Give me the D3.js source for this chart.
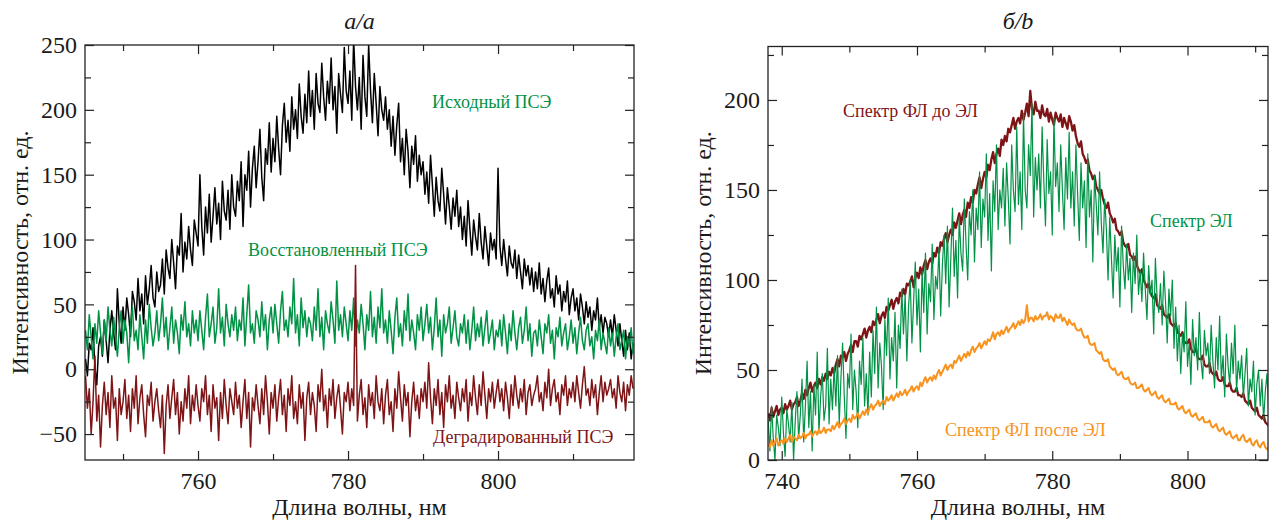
<!DOCTYPE html>
<html>
<head>
<meta charset="utf-8">
<script src="https://cdn.jsdelivr.net/npm/d3@7.9.0/dist/d3.min.js"></script>
<style>
  body { margin: 0; background: #fff; }
  svg { display: block; font-family: "Liberation Serif", "Times New Roman", serif; }
</style>
</head>
<body>
<svg id="chart" width="1269" height="520"></svg>
<script>
// ---- panel a: wavelength grid 745..818 nm, 0.25 nm step (20 values per 5 nm row)
const leftStart = 745;
const leftStep = 0.25;

// Исходный ПСЭ
const leftOriginal = [
  8, -5, 20, 15, 32, 2, -12, 18, 25, 10, 38, 22, 5, 30, 45, 28, 15, 62, 35, 20,
  48, 30, 55, 42, 25, 60, 52, 38, 70, 45, 58, 35, 72, 50, 62, 80, 55, 48, 75, 60,
  65, 85, 58, 92, 78, 70, 100, 82, 62, 95, 88, 120, 75, 98, 85, 110, 92, 80, 115, 105,
  95, 150, 110, 88, 125, 105, 135, 98, 118, 140, 112, 128, 100, 145, 122, 115, 138, 108, 150, 125,
  118, 145, 130, 160, 110, 150, 138, 168, 125, 155, 172, 140, 160, 185, 148, 130, 170, 158, 190, 152,
  178, 160, 195, 170, 150, 188, 205, 175, 192, 168, 210, 185, 200, 178, 220, 195, 182, 212, 190, 230,
  195, 215, 185, 228, 205, 198, 236, 210, 192, 222, 205, 240, 200, 218, 182, 228, 212, 198, 248, 215,
  205, 230, 192, 255, 218, 200, 225, 185, 242, 210, 195, 250, 215, 190, 228, 205, 180, 218, 200, 192,
  210, 185, 200, 172, 195, 165, 188, 205, 160, 178, 150, 185, 168, 140, 172, 158, 180, 145, 165, 150,
  160, 135, 152, 128, 165, 142, 118, 148, 130, 122, 155, 135, 112, 140, 125, 108, 132, 118, 138, 110,
  125, 100, 118, 95, 130, 108, 88, 115, 102, 92, 120, 98, 85, 110, 95, 80, 105, 92, 100, 85,
  155, 95, 80, 100, 85, 72, 95, 82, 78, 92, 70, 88, 75, 62, 85, 72, 80, 65, 78, 60,
  75, 62, 82, 58, 70, 52, 68, 78, 55, 62, 48, 72, 58, 65, 45, 60, 52, 68, 42, 55,
  62, 45, 55, 38, 58, 48, 35, 52, 40, 48, 30, 45, 38, 55, 32, 42, 28, 40, 35, 25,
  38, 25, 42, 30, 18, 35, 22, 10, 30, 15, 28, 8, 20
];

// Восстановленный ПСЭ
const leftRestored = [
  30, 15, 42, 25, 8, 35, 20, 45, 28, 12, 38, 22, 48, 30, 18, 40, 25, 10, 32, 45,
  20, 38, 28, 5, 35, 48, 22, 30, 15, 42, 25, 8, 38, 20, 50, 32, 18, 28, 45, 22,
  35, 55, 25, 40, 15, 32, 48, 20, 38, 28, 12, 42, 30, 52, 25, 35, 18, 45, 28, 38,
  22, 45, 30, 15, 40, 58, 25, 35, 48, 20, 32, 62, 28, 40, 18, 50, 35, 25, 42, 30,
  48, 22, 38, 30, 55, 18, 42, 65, 28, 35, 20, 45, 38, 25, 52, 30, 42, 15, 38, 48,
  28, 50, 35, 20, 45, 60, 30, 38, 25, 48, 35, 70, 28, 42, 18, 55, 32, 45, 25, 40,
  35, 22, 48, 30, 62, 25, 40, 15, 45, 35, 28, 52, 38, 20, 68, 30, 42, 25, 48, 35,
  22, 45, 30, 55, 18, 38, 28, 50, 35, 15, 42, 30, 60, 25, 40, 20, 48, 32, 62, 28,
  38, 20, 45, 30, 12, 40, 55, 25, 35, 18, 45, 30, 58, 22, 38, 28, 15, 42, 30, 48,
  22, 35, 50, 28, 40, 15, 32, 55, 25, 38, 10, 42, 28, 35, 48, 20, 32, 45, 25, 18,
  35, 28, 42, 20, 38, 15, 30, 48, 22, 35, 25, 40, 18, 32, 45, 20, 28, 38, 15, 30,
  25, 38, 18, 42, 28, 12, 35, 22, 45, 28, 15, 32, 40, 20, 30, 48, 22, 35, 10, 28,
  30, 18, 38, 25, 12, 35, 28, 42, 20, 30, 8, 32, 25, 40, 18, 28, 35, 15, 25, 38,
  20, 32, 12, 28, 40, 22, 15, 30, 35, 18, 25, 8, 30, 22, 38, 15, 28, 20, 12, 32,
  18, 28, 10, 25, 35, 15, 22, 30, 8, 25, 18, 32, 12
];

// Деградированный ПСЭ
const leftDegraded = [
  -5, -30, -15, -50, -25, 10, -40, -20, -60, -28, -10, -35, -18, -45, -5, -30, -22, -55, -15, -35,
  -25, -8, -38, -20, -48, -15, -30, -5, -42, -22, -12, -35, -52, -20, -28, -10, -40, -25, -15, -32,
  -45, -20, -65, -28, -12, -38, -22, -8, -35, -18, -50, -25, -40, -15, -30, -5, -42, -20, -32, -12,
  -28, -40, -15, -25, -5, -35, -20, -48, -12, -30, -22, -55, -18, -38, -8, -28, -42, -15, -25, -35,
  -10, -30, -20, -45, -25, -8, -38, -18, -60, -22, -32, -12, -28, -42, -15, -35, -5, -25, -50, -18,
  -30, -12, -40, -22, -8, -35, -20, -48, -15, -28, -5, -38, -25, -42, -12, -30, -18, -55, -22, -10,
  -35, -18, -28, -48, -12, -25, 0, -32, -20, -45, -15, -28, -8, -38, -22, -12, -30, -50, -18, -25,
  -10, -32, -15, -28, 80, -40, -20, -8, -35, -22, -45, -12, -28, -18, -38, -5, -25, -32, -15, -42,
  -20, -8, -35, -25, -48, -15, -30, -2, -22, -40, -12, -28, -18, -52, -25, -10, -32, -20, -38, -15,
  -25, -10, -30, 5, -22, -42, -15, -28, -8, -35, -18, -45, -12, -25, -5, -30, -20, -38, -10, -22,
  -32, -15, -25, -8, -40, -18, -28, -5, -22, -35, -12, -28, -2, -20, -38, -15, -25, -10, -30, -18,
  -8, -25, -15, -32, -10, -22, -38, -12, -28, -5, -20, -30, -15, -25, -8, -35, -18, -12, -28, -20,
  -15, -5, -25, -18, -32, -10, -22, 0, -28, -15, -8, -25, -18, -35, -12, -20, -5, -28, -15, -22,
  -10, -25, -5, -18, -30, -12, 2, -20, -15, -28, -8, -22, -12, -35, -18, -5, -25, -10, -20, -15,
  -8, -22, -15, -30, -5, -18, -25, -10, -32, -12, -20, -5, -15
];

// ---- panel b: wavelength grid 738..812 nm, 0.25 nm step
const rightStart = 738;
const rightStep = 0.25;

// Спектр ФЛ до ЭЛ
const rightPlBefore = [
  26, 22, 29, 24, 27, 30, 25, 28, 29, 26, 31, 28, 30, 33, 28, 31, 32, 35, 30, 33,
  37, 34, 39, 36, 40, 43, 38, 41, 43, 40, 45, 42, 46, 44, 48, 45, 49, 47, 51, 48,
  53, 56, 52, 58, 57, 60, 55, 59, 61, 64, 60, 66, 66, 63, 69, 67, 70, 73, 68, 72,
  74, 71, 77, 75, 78, 81, 76, 80, 82, 79, 85, 83, 86, 89, 84, 88, 90, 87, 93, 91,
  95, 92, 98, 97, 99, 102, 96, 101, 104, 101, 107, 103, 108, 111, 106, 110, 112, 109, 115, 113,
  118, 115, 121, 119, 123, 126, 121, 125, 128, 125, 132, 129, 133, 137, 131, 136, 139, 135, 143, 140,
  146, 143, 150, 148, 153, 157, 151, 156, 160, 157, 164, 161, 167, 171, 165, 170, 173, 169, 178, 175,
  180, 177, 184, 182, 186, 190, 184, 188, 190, 187, 194, 189, 193, 198, 191, 205, 195, 192, 199, 194,
  194, 190, 197, 192, 191, 195, 188, 193, 189, 186, 193, 190, 188, 192, 185, 190, 187, 184, 191, 188,
  183, 186, 180, 176, 174, 177, 170, 168, 165, 167, 161, 159, 156, 158, 152, 150, 148, 150, 145, 142,
  140, 143, 137, 135, 132, 134, 128, 127, 125, 127, 121, 119, 118, 120, 114, 113, 111, 113, 108, 106,
  104, 106, 100, 98, 96, 98, 93, 91, 90, 92, 86, 85, 84, 86, 81, 80, 79, 81, 76, 75,
  74, 76, 71, 70, 69, 71, 66, 65, 65, 67, 62, 60, 60, 62, 57, 56, 56, 58, 53, 52,
  52, 54, 49, 48, 47, 49, 45, 44, 44, 46, 42, 41, 41, 43, 39, 38, 38, 40, 36, 36,
  35, 37, 33, 32, 31, 33, 29, 28, 27, 29, 25, 24, 23, 25, 21, 20, 19
];

// Спектр ЭЛ
const rightEl = [
  22, 5, 30, 12, 0, 25, 18, 8, 35, 15, 2, 28, 20, 10, 32, 0, 22, 38, 12, 25,
  45, 10, 30, 55, 18, 38, 5, 42, 25, 60, 15, 35, 48, 22, 30, 62, 20, 45, 28, 52,
  30, 58, 20, 45, 65, 35, 12, 48, 40, 70, 28, 50, 38, 18, 55, 42, 68, 30, 48, 25,
  60, 35, 72, 48, 85, 40, 65, 52, 28, 78, 58, 90, 45, 68, 55, 82, 40, 75, 62, 95,
  70, 92, 55, 85, 100, 65, 88, 110, 75, 95, 60, 105, 82, 115, 70, 98, 88, 120, 78, 102,
  95, 118, 80, 108, 125, 98, 130, 85, 112, 140, 102, 122, 90, 135, 115, 105, 145, 120, 100, 138,
  125, 150, 110, 140, 128, 160, 118, 145, 135, 170, 122, 148, 105, 155, 138, 175, 128, 150, 140, 162,
  130, 165, 145, 120, 175, 150, 138, 185, 142, 160, 128, 192, 150, 140, 175, 158, 198, 135, 168, 150,
  170, 140, 185, 155, 130, 178, 148, 160, 125, 190, 152, 165, 138, 175, 150, 128, 168, 145, 182, 140,
  160, 130, 175, 148, 122, 165, 140, 155, 118, 170, 135, 150, 110, 158, 142, 125, 160, 132, 115, 145,
  128, 100, 135, 112, 90, 125, 105, 118, 85, 130, 108, 95, 120, 100, 112, 82, 115, 98, 125, 92,
  105, 88, 115, 95, 78, 108, 92, 100, 70, 112, 90, 82, 98, 75, 105, 88, 65, 95, 80, 100,
  62, 85, 55, 75, 48, 70, 60, 88, 52, 65, 42, 78, 58, 68, 50, 82, 55, 45, 72, 58,
  65, 48, 75, 55, 40, 68, 50, 80, 45, 58, 35, 70, 52, 42, 65, 48, 75, 38, 55, 45,
  58, 35, 48, 62, 30, 45, 38, 55, 25, 42, 50, 30, 45, 22, 38, 48, 28
];

// Спектр ФЛ после ЭЛ
const rightPlAfter = [
  9, 7, 11, 8, 10, 12, 8, 10, 11, 9, 12, 10, 12, 14, 10, 13, 12, 11, 14, 12,
  13, 15, 12, 14, 14, 16, 13, 15, 16, 14, 17, 15, 16, 18, 15, 17, 17, 16, 19, 17,
  19, 21, 18, 20, 21, 23, 20, 22, 23, 21, 25, 23, 24, 26, 23, 25, 27, 25, 28, 26,
  29, 31, 28, 30, 31, 33, 30, 32, 33, 31, 35, 33, 34, 36, 33, 35, 37, 35, 38, 36,
  37, 39, 36, 38, 39, 41, 38, 40, 41, 39, 43, 41, 44, 46, 43, 45, 46, 44, 47, 45,
  48, 50, 47, 49, 51, 53, 50, 52, 53, 51, 55, 54, 56, 58, 55, 57, 59, 57, 60, 58,
  61, 63, 60, 62, 63, 65, 62, 64, 66, 64, 67, 66, 68, 71, 67, 70, 71, 69, 72, 70,
  72, 74, 71, 73, 74, 76, 73, 75, 77, 75, 78, 76, 78, 86, 77, 79, 79, 77, 80, 78,
  79, 81, 78, 80, 80, 82, 78, 80, 79, 77, 81, 79, 79, 81, 77, 79, 77, 75, 78, 76,
  75, 76, 73, 72, 72, 73, 70, 68, 68, 69, 65, 64, 64, 65, 61, 60, 59, 60, 56, 55,
  55, 56, 52, 51, 50, 51, 48, 47, 48, 49, 46, 45, 45, 46, 43, 42, 42, 43, 40, 40,
  41, 42, 39, 38, 39, 40, 37, 36, 37, 38, 35, 34, 35, 36, 33, 32, 33, 34, 31, 31,
  31, 32, 29, 28, 29, 30, 27, 26, 27, 28, 25, 24, 25, 26, 23, 22, 23, 24, 21, 21,
  21, 22, 19, 18, 19, 20, 17, 16, 17, 18, 15, 14, 15, 16, 13, 12, 13, 14, 11, 11,
  13, 14, 11, 10, 11, 12, 9, 8, 10, 11, 8, 7, 9, 10, 7, 6, 7
];

// ticks
const leftXMajor = [760, 780, 800];
const leftXMinor = [750, 770, 790, 810];
const leftYMajor = [-50, 0, 50, 100, 150, 200, 250];
const leftYMinor = [-25, 25, 75, 125, 175, 225];
const rightXMajor = [740, 760, 780, 800];
const rightXMinor = [750, 770, 790, 810];
const rightYMajor = [0, 50, 100, 150, 200];
const rightYMinor = [25, 75, 125, 175, 225];

const GREEN = '#009245';
const DARKRED = '#7f1416';
const ORANGE = '#f7931e';
const FONT = '"Liberation Serif", "Times New Roman", serif';

const svg = d3.select('#chart');

const styleAxis = sel => {
  sel.select('.domain').remove();
  sel.attr('font-family', FONT).attr('font-size', 24);
  sel.selectAll('line').attr('stroke', '#222').attr('stroke-width', 1.2);
  sel.selectAll('text').attr('fill', '#1a1a1a');
};

const drawPanel = p => {
  const x = d3.scaleLinear().domain(p.xDomain).range([p.left, p.right]);
  const y = d3.scaleLinear().domain(p.yDomain).range([p.bottom, p.top]);
  const g = svg.append('g');

  g.append('clipPath').attr('id', 'clip-' + p.id)
    .append('rect')
    .attr('x', p.left).attr('y', p.top)
    .attr('width', p.right - p.left).attr('height', p.bottom - p.top);

  const plot = g.append('g').attr('clip-path', `url(#clip-${p.id})`);
  p.series.forEach(s => {
    const line = d3.line()
      .x((d, i) => x(p.start + i * p.step))
      .y(d => y(d));
    plot.append('path')
      .datum(s.values)
      .attr('d', line)
      .attr('fill', 'none')
      .attr('stroke', s.color)
      .attr('stroke-width', s.width)
      .attr('stroke-linejoin', 'round');
  });

  const fmt = d3.format('d');
  // bottom / top
  g.append('g').attr('transform', `translate(0,${p.bottom})`)
    .call(d3.axisBottom(x).tickValues(p.xMajor).tickSize(-9).tickPadding(12).tickFormat(fmt))
    .call(styleAxis);
  g.append('g').attr('transform', `translate(0,${p.bottom})`)
    .call(d3.axisBottom(x).tickValues(p.xMinor).tickSize(-6).tickFormat(''))
    .call(styleAxis);
  g.append('g').attr('transform', `translate(0,${p.top})`)
    .call(d3.axisTop(x).tickValues(p.xMajor).tickSize(-9).tickFormat(''))
    .call(styleAxis);
  g.append('g').attr('transform', `translate(0,${p.top})`)
    .call(d3.axisTop(x).tickValues(p.xMinor).tickSize(-6).tickFormat(''))
    .call(styleAxis);
  // left / right
  g.append('g').attr('transform', `translate(${p.left},0)`)
    .call(d3.axisLeft(y).tickValues(p.yMajor).tickSize(-9).tickPadding(8).tickFormat(fmt))
    .call(styleAxis);
  g.append('g').attr('transform', `translate(${p.left},0)`)
    .call(d3.axisLeft(y).tickValues(p.yMinor).tickSize(-6).tickFormat(''))
    .call(styleAxis);
  g.append('g').attr('transform', `translate(${p.right},0)`)
    .call(d3.axisRight(y).tickValues(p.yMajor).tickSize(-9).tickFormat(''))
    .call(styleAxis);
  g.append('g').attr('transform', `translate(${p.right},0)`)
    .call(d3.axisRight(y).tickValues(p.yMinor).tickSize(-6).tickFormat(''))
    .call(styleAxis);

  g.append('rect')
    .attr('x', p.left).attr('y', p.top)
    .attr('width', p.right - p.left).attr('height', p.bottom - p.top)
    .attr('fill', 'none').attr('stroke', '#222').attr('stroke-width', 1.3);

  // titles
  g.append('text')
    .attr('x', (p.left + p.right) / 2).attr('y', 29)
    .attr('text-anchor', 'middle')
    .attr('font-family', FONT).attr('font-size', 24).attr('font-style', 'italic')
    .attr('fill', '#1a1a1a')
    .text(p.title);
  g.append('text')
    .attr('x', (p.left + p.right) / 2).attr('y', 515)
    .attr('text-anchor', 'middle')
    .attr('font-family', FONT).attr('font-size', 24)
    .attr('fill', '#1a1a1a')
    .text('Длина волны, нм');
  g.append('text')
    .attr('transform', `translate(${p.left - 57},${(p.top + p.bottom) / 2}) rotate(-90)`)
    .attr('text-anchor', 'middle')
    .attr('font-family', FONT).attr('font-size', 24)
    .attr('fill', '#1a1a1a')
    .text('Интенсивность, отн. ед.');

  p.labels.forEach(l => {
    g.append('text')
      .attr('x', l.x).attr('y', l.y)
      .attr('font-family', FONT).attr('font-size', 18)
      .attr('fill', l.color)
      .text(l.text);
  });
};

drawPanel({
  id: 'a', title: 'a/a',
  left: 85, right: 634, top: 45, bottom: 460,
  xDomain: [744.93, 818.13], yDomain: [-70, 250],
  xMajor: leftXMajor, xMinor: leftXMinor, yMajor: leftYMajor, yMinor: leftYMinor,
  start: leftStart, step: leftStep,
  series: [
    { values: leftOriginal, color: '#000', width: 1.5 },
    { values: leftRestored, color: GREEN, width: 1.5 },
    { values: leftDegraded, color: DARKRED, width: 1.5 }
  ],
  labels: [
    { text: 'Исходный ПСЭ', x: 432, y: 108, color: GREEN },
    { text: 'Восстановленный ПСЭ', x: 248, y: 256, color: GREEN },
    { text: 'Деградированный ПСЭ', x: 433, y: 443, color: DARKRED }
  ]
});

drawPanel({
  id: 'b', title: 'б/b',
  left: 768, right: 1268, top: 46.5, bottom: 460,
  xDomain: [737.97, 811.9], yDomain: [0, 229.7],
  xMajor: rightXMajor, xMinor: rightXMinor, yMajor: rightYMajor, yMinor: rightYMinor,
  start: rightStart, step: rightStep,
  series: [
    { values: rightPlBefore, color: DARKRED, width: 2.3 },
    { values: rightEl, color: GREEN, width: 1.2 },
    { values: rightPlAfter, color: ORANGE, width: 2.0 }
  ],
  labels: [
    { text: 'Спектр ФЛ до ЭЛ', x: 843, y: 117, color: DARKRED },
    { text: 'Спектр ЭЛ', x: 1150, y: 227, color: GREEN },
    { text: 'Спектр ФЛ после ЭЛ', x: 945, y: 436, color: ORANGE }
  ]
});
</script>
</body>
</html>
